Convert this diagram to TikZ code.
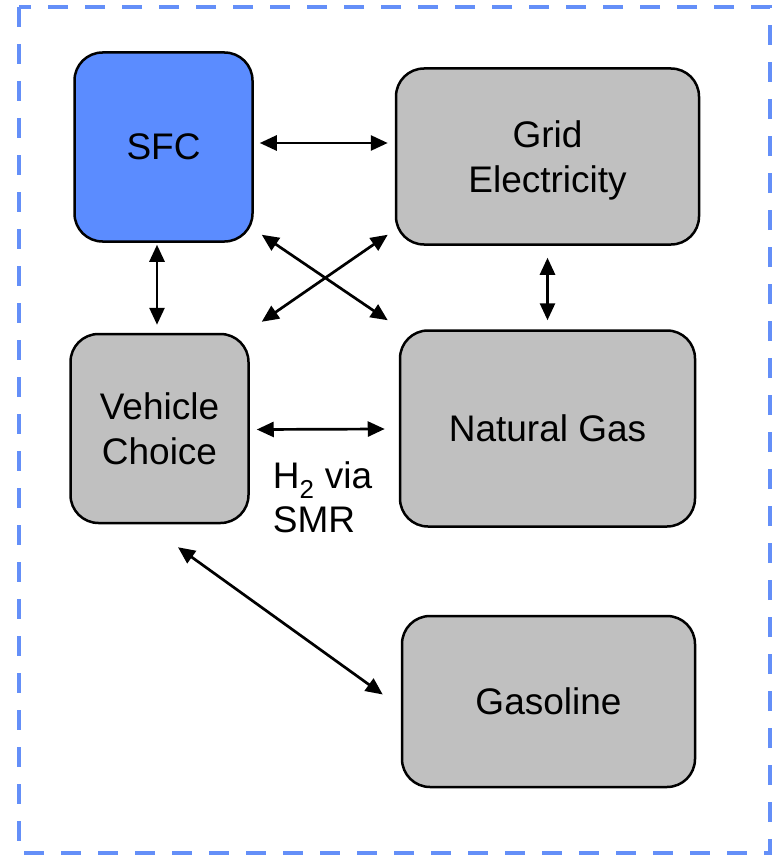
\documentclass[tikz,border=0pt]{standalone}
\usepackage{fontspec}
\setmainfont{Liberation Sans}
\usetikzlibrary{arrows.meta,positioning}
\definecolor{sfcblue}{RGB}{91,140,255}
\definecolor{frameblue}{RGB}{100,143,248}
\definecolor{boxgray}{RGB}{192,192,192}
\tikzset{
  box/.style={rectangle, draw, line width=2.5pt, rounded corners=28pt, align=center, inner sep=0pt, font=\fontsize{37}{45}\selectfont},
  model/.style={box, fill=sfcblue},
  sector/.style={box, fill=boxgray},
  lbl/.style={align=left, inner sep=0pt, font=\fontsize{37}{44}\selectfont},
  arr/.style={{Triangle[length=17pt,width=15pt]}-{Triangle[length=17pt,width=15pt]}, line width=2.7pt}
}
\begin{document}
\begin{tikzpicture}[x=1pt, y=-1pt]
\useasboundingbox (0,0) rectangle (774,856);
\draw[frameblue, line width=3.5pt, dash pattern=on 20pt off 17pt] (19,7) rectangle (770,853);

\node[model, minimum width=178pt, minimum height=189pt] (sfc) at (163.5,147) {SFC};
\node[sector, minimum width=303pt, minimum height=176pt, right=141pt of sfc, yshift=-9.5pt, text depth=0pt] (grid) {Grid\\Electricity};
\node[sector, minimum width=178pt, minimum height=189pt, below=90pt of sfc, xshift=-4pt] (veh) {Vehicle\\Choice};
\node[sector, minimum width=295pt, minimum height=196pt, right=149pt of veh] (gas) {Natural Gas};
\node[sector, minimum width=293pt, minimum height=171pt, below=87pt of gas, xshift=1pt] (petrol) {Gasoline};

\node[lbl, anchor=north west] (smr) at ([shift={(23,33)}]veh.east) {H\textsubscript{2} via\\SMR};

\draw[arr] ([shift={(6,-4)}]sfc.east) -- ([shift={(-7,-13.5)}]grid.west);
\draw[arr] ([shift={(-6.5,2)}]sfc.south) -- ([shift={(-2.5,-8)}]veh.north);
\draw[arr] ([shift={(0,12)}]grid.south) -- ([shift={(0,-9)}]gas.north);
\draw[arr] ([shift={(8,-8)}]sfc.south east) -- ([shift={(-11,-9)}]gas.north west);
\draw[arr] ([shift={(12,-11)}]veh.north east) -- ([shift={(-7,-11)}]grid.south west);
\draw[arr] ([shift={(7,1)}]veh.east) -- ([shift={(-14,0.5)}]gas.west);
\draw[arr] ([shift={(18.5,23)}]veh.south) -- ([shift={(-18,-7)}]petrol.west);
\end{tikzpicture}
\end{document}
